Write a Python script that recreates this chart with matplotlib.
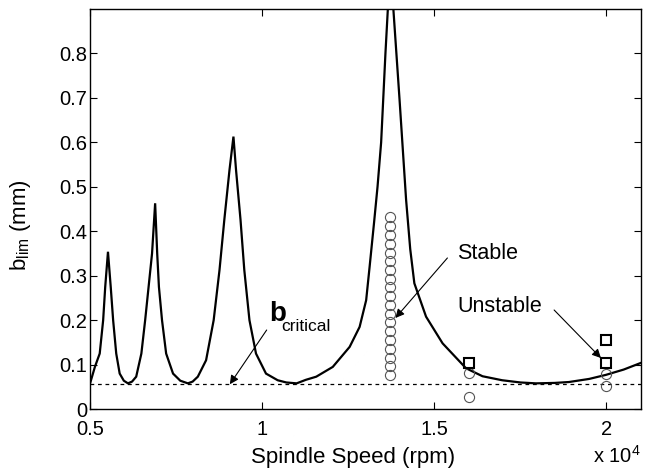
import matplotlib
matplotlib.use("Agg")
import matplotlib.pyplot as plt
from matplotlib.ticker import FuncFormatter, FixedLocator

plt.rcParams['font.family'] = ['Liberation Sans', 'DejaVu Sans']
plt.rcParams['mathtext.fontset'] = 'custom'
plt.rcParams['mathtext.rm'] = 'Liberation Sans'
plt.rcParams['mathtext.bf'] = 'Liberation Sans:bold'

# ---- data ----
speed_rpm = [5000, 5140, 5280, 5380, 5440, 5520, 5600, 5670, 5760, 5860, 5980, 6100,
             6220, 6340, 6490, 6600, 6700, 6800, 6890, 6950, 7000, 7090, 7210, 7410,
             7620, 7840, 7980, 8130, 8370, 8590, 8760, 8900, 9050, 9165, 9240, 9370,
             9480, 9630, 9820, 10110, 10450, 10700, 11000, 11270, 11570, 12050, 12540,
             12830, 13020, 13120, 13250, 13350, 13455, 13580, 13650, 13720, 13810,
             13990, 14180, 14300, 14420, 14760, 15240, 15920,
             16400, 16970, 17500, 17950, 18500, 18910, 19500, 19980, 20500, 21000]
b_lim_mm = [0.058, 0.095, 0.125, 0.200, 0.275, 0.354, 0.275, 0.200, 0.125, 0.080, 0.064, 0.058,
            0.062, 0.073, 0.125, 0.200, 0.275, 0.350, 0.463, 0.350, 0.275, 0.200, 0.125, 0.080,
            0.064, 0.058, 0.062, 0.073, 0.110, 0.200, 0.313, 0.426, 0.538, 0.613, 0.538, 0.426,
            0.313, 0.200, 0.125, 0.080, 0.065, 0.060, 0.058, 0.066, 0.073, 0.095, 0.140,
            0.185, 0.245, 0.320, 0.420, 0.500, 0.600, 0.800, 0.900, 1.300, 0.900,
            0.696, 0.471, 0.360, 0.283, 0.208, 0.148, 0.092,
            0.074, 0.065, 0.060, 0.058, 0.059, 0.061, 0.068, 0.077, 0.089, 0.104]

b_critical = 0.056

stable_speed = [13700] * 19 + [16000, 16000, 20000, 20000]
stable_b = [0.077, 0.097, 0.116, 0.136, 0.156, 0.175, 0.195, 0.215, 0.234, 0.254,
            0.274, 0.293, 0.313, 0.333, 0.352, 0.372, 0.392, 0.411, 0.432,
            0.081, 0.027, 0.079, 0.052]

unstable_speed = [16000, 20000, 20000]
unstable_b = [0.104, 0.104, 0.155]

xticks = [5000, 10000, 15000, 20000]
yticks = [0, 0.1, 0.2, 0.3, 0.4, 0.5, 0.6, 0.7, 0.8]

# ---- figure ----
fig = plt.figure(figsize=(6.48, 4.73), dpi=100)
ax = fig.add_axes([0.139, 0.135, 0.850, 0.846])

ax.plot(speed_rpm, b_lim_mm, color='black', lw=1.6, solid_joinstyle='miter')
ax.axhline(b_critical, color='black', lw=0.9, ls=(0, (3, 3)))
ax.plot(stable_speed, stable_b, ls='none', marker='o', ms=7.3, mfc='none',
        mec='#555555', mew=0.8)
ax.plot(unstable_speed, unstable_b, ls='none', marker='s', ms=7.5, mfc='none',
        mec='black', mew=1.5)

ax.set_xlim(5000, 21000)
ax.set_ylim(0, 0.9)
ax.xaxis.set_major_locator(FixedLocator(xticks))
ax.yaxis.set_major_locator(FixedLocator(yticks))
ax.xaxis.set_major_formatter(FuncFormatter(lambda v, p: f"{v/1e4:g}"))
ax.yaxis.set_major_formatter(FuncFormatter(lambda v, p: f"{v:g}"))
ax.tick_params(direction='in', top=True, right=True, length=5, width=0.8,
               labelsize=14.5)
ax.tick_params(axis='y', pad=2)
ax.tick_params(axis='x', pad=7.5)
for s in ax.spines.values():
    s.set_linewidth(1.0)

ax.set_xlabel('Spindle Speed (rpm)', fontsize=16)
ax.xaxis.set_label_coords(0.477, -0.095)
ax.set_ylabel(r'b$_{\mathregular{lim}}$ (mm)', fontsize=16)
ax.yaxis.set_label_coords(-0.103, 0.46)
ax.text(1.0, -0.135, r'x 10$^{\mathregular{4}}$', transform=ax.transAxes,
        ha='right', va='baseline', fontsize=14.5)

# annotations
arrow = dict(arrowstyle='-|>', color='black', lw=0.8, mutation_scale=13,
             shrinkA=0, shrinkB=0)
ax.annotate('', xy=(9060, 0.056), xytext=(10130, 0.178), arrowprops=arrow)
ax.text(10190, 0.215, 'b', fontsize=20, fontweight='bold', ha='left', va='center')
ax.text(10560, 0.186, 'critical', fontsize=12.5, ha='left', va='center')

ax.annotate('', xy=(13870, 0.205), xytext=(15380, 0.34), arrowprops=arrow)
ax.text(15670, 0.351, 'Stable', fontsize=15.5, ha='left', va='center')

ax.annotate('', xy=(19840, 0.115), xytext=(18480, 0.223), arrowprops=arrow)
ax.text(15670, 0.230, 'Unstable', fontsize=15.5, ha='left', va='center')

fig.savefig('out.png', dpi=100)
